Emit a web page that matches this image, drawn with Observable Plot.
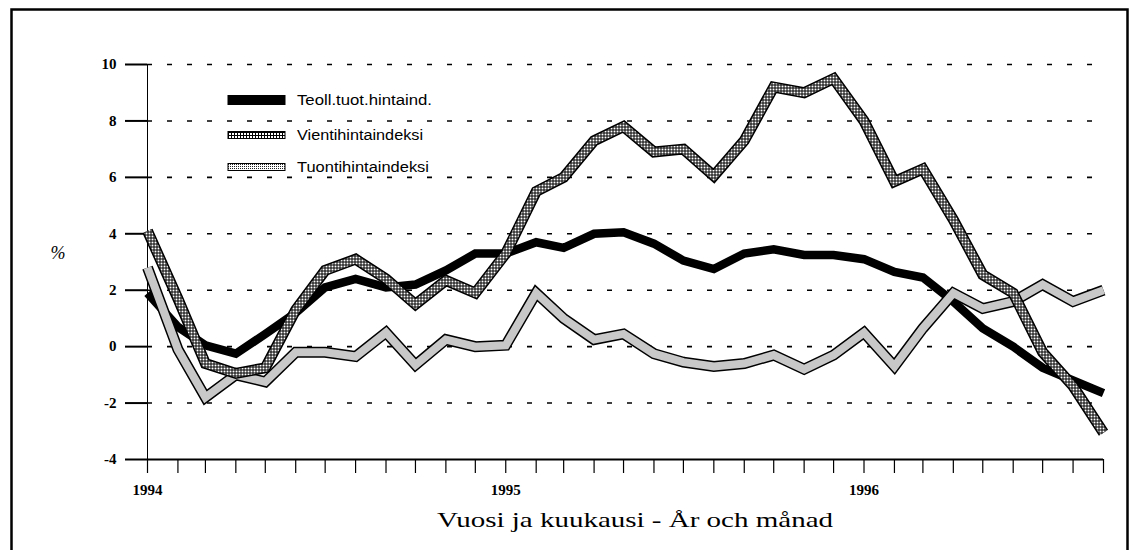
<!DOCTYPE html>
<html><head><meta charset="utf-8">
<script src="https://cdn.jsdelivr.net/npm/d3@7"></script>
<script src="https://cdn.jsdelivr.net/npm/@observablehq/plot@0.6"></script>
<style>body{margin:0;background:#fff} svg{display:block}</style>
</head><body><div id="chart"></div>
<script>
const months = ["1994-01","1994-02","1994-03","1994-04","1994-05","1994-06","1994-07","1994-08","1994-09","1994-10","1994-11","1994-12",
"1995-01","1995-02","1995-03","1995-04","1995-05","1995-06","1995-07","1995-08","1995-09","1995-10","1995-11","1995-12",
"1996-01","1996-02","1996-03","1996-04","1996-05","1996-06","1996-07","1996-08","1996-09"];
const seriesNames = ["Teoll.tuot.hintaind.", "Vientihintaindeksi", "Tuontihintaindeksi"];
const teoll  = [1.9, 0.7, 0.05, -0.25, 0.45, 1.2, 2.1, 2.4, 2.1, 2.2, 2.7, 3.3, 3.3, 3.7, 3.5, 4.0, 4.05, 3.65, 3.05, 2.75, 3.3, 3.45, 3.25, 3.25, 3.1, 2.65, 2.45, 1.6, 0.65, 0.0, -0.75, -1.2, -1.65];
const vienti = [4.1, 1.7, -0.6, -0.95, -0.75, 1.3, 2.7, 3.1, 2.4, 1.5, 2.35, 1.9, 3.3, 5.5, 6.0, 7.3, 7.8, 6.9, 7.0, 6.05, 7.3, 9.2, 9.0, 9.5, 8.0, 5.85, 6.3, 4.5, 2.55, 1.9, -0.2, -1.4, -3.05];
const tuonti = [2.8, -0.1, -1.8, -1.0, -1.25, -0.2, -0.2, -0.35, 0.5, -0.65, 0.25, 0.0, 0.05, 1.9, 1.0, 0.25, 0.45, -0.25, -0.55, -0.7, -0.6, -0.3, -0.8, -0.3, 0.5, -0.7, 0.65, 1.9, 1.35, 1.6, 2.2, 1.6, 2.0];
const yTicks = [-4, -2, 0, 2, 4, 6, 8, 10];
const yearLabels = ["1994", "1995", "1996"];
const xTitle = "Vuosi ja kuukausi - År och månad";
const yTitle = "%";

const parse = d3.utcParse("%Y-%m");
const dates = months.map(parse);
const rows = vals => dates.map((d, i) => ({date: d, value: vals[i]}));
const tData = rows(teoll), vData = rows(vienti), uData = rows(tuonti);
const fmtX = d => d.getUTCMonth() === 0 ? (yearLabels.find(y => +y === d.getUTCFullYear()) || "") : "";

const serif = "'Liberation Serif','Times New Roman',serif";
const sans = "'Liberation Sans',Arial,sans-serif";
const lineOpts = {x: "date", y: "value", strokeLinejoin: "miter", strokeMiterlimit: 6, strokeLinecap: "butt"};

const chart = Plot.plot({
  width: 1131, height: 550,
  marginLeft: 147, marginRight: 28, marginTop: 64, marginBottom: 91,
  style: {background: "white", color: "black", fontFamily: serif, fontSize: "14px"},
  x: {type: "utc", domain: [dates[0], dates[dates.length - 1]]},
  y: {domain: [-4, 10]},
  marks: [
    Plot.gridY(yTicks.filter(t => t > -4), {stroke: "black", strokeOpacity: 1, strokeWidth: 1.6, strokeDasharray: "5,15"}),
    Plot.ruleX([dates[0]], {y1: -4, y2: 10, stroke: "black", strokeWidth: 1}),
    Plot.ruleY([-4], {stroke: "black", strokeWidth: 2}),
    Plot.axisY({ticks: yTicks, tickSize: 22, tickPadding: 9, tickFormat: d => String(d), fontSize: 15, fontWeight: "bold", strokeWidth: 2, label: null}),
    Plot.axisX({ticks: dates, tickSize: 14, tickPadding: 11, tickFormat: fmtX, fontSize: 15, fontWeight: "bold", strokeWidth: 1.2, label: null}),
    Plot.line(tData, {...lineOpts, stroke: "black", strokeWidth: 8.5}),
    Plot.line(uData, {...lineOpts, stroke: "black", strokeWidth: 11}),
    Plot.line(uData, {...lineOpts, stroke: "url(#patTuonti)", strokeWidth: 8}),
    Plot.line(vData, {...lineOpts, stroke: "black", strokeWidth: 11}),
    Plot.line(vData, {...lineOpts, stroke: "url(#patVienti)", strokeWidth: 8})
  ]
});
document.getElementById("chart").append(chart);

const svg = d3.select(chart);
const defs = svg.insert("defs", ":first-child");
const pv = defs.append("pattern").attr("id", "patVienti").attr("patternUnits", "userSpaceOnUse").attr("width", 3).attr("height", 3);
pv.append("rect").attr("width", 3).attr("height", 3).attr("fill", "black");
pv.append("rect").attr("x", 1).attr("y", 1).attr("width", 2).attr("height", 2).attr("fill", "white");
const pt = defs.append("pattern").attr("id", "patTuonti").attr("patternUnits", "userSpaceOnUse").attr("width", 2).attr("height", 2);
pt.append("rect").attr("width", 2).attr("height", 2).attr("fill", "white");
pt.append("rect").attr("width", 1).attr("height", 1).attr("fill", "#222");

// legend (scan is slightly stretched horizontally, so text widths are fitted)
const legend = svg.append("g");
const legY = [100, 135, 167];
const legLen = [135, 126, 132];
const swatchFill = ["black", "url(#patVienti)", "url(#patTuonti)"];
seriesNames.forEach((name, i) => {
  const h = i === 0 ? 9 : 7;
  legend.append("rect").attr("x", 228).attr("y", legY[i] - h / 2).attr("width", 57).attr("height", h)
    .attr("fill", swatchFill[i]).attr("stroke", "black").attr("stroke-width", 1);
  legend.append("text").attr("x", 297).attr("y", legY[i]).attr("dy", "0.36em")
    .attr("text-anchor", "start").attr("textLength", legLen[i]).attr("lengthAdjust", "spacingAndGlyphs")
    .style("font-family", sans).style("font-size", "14px").text(name);
});

// axis titles
svg.append("text").attr("x", 437).attr("y", 527).attr("text-anchor", "start")
  .attr("textLength", 396).attr("lengthAdjust", "spacingAndGlyphs")
  .style("font-family", serif).style("font-size", "21px").text(xTitle);
svg.append("text").attr("x", 58).attr("y", 259).attr("text-anchor", "middle")
  .style("font-family", serif).style("font-style", "italic").style("font-size", "18px").text(yTitle);

// outer frame
svg.append("rect").attr("x", 11.5).attr("y", 9.5).attr("width", 1116).attr("height", 620)
  .attr("fill", "none").attr("stroke", "black").attr("stroke-width", 2.5);
</script>
</body></html>
